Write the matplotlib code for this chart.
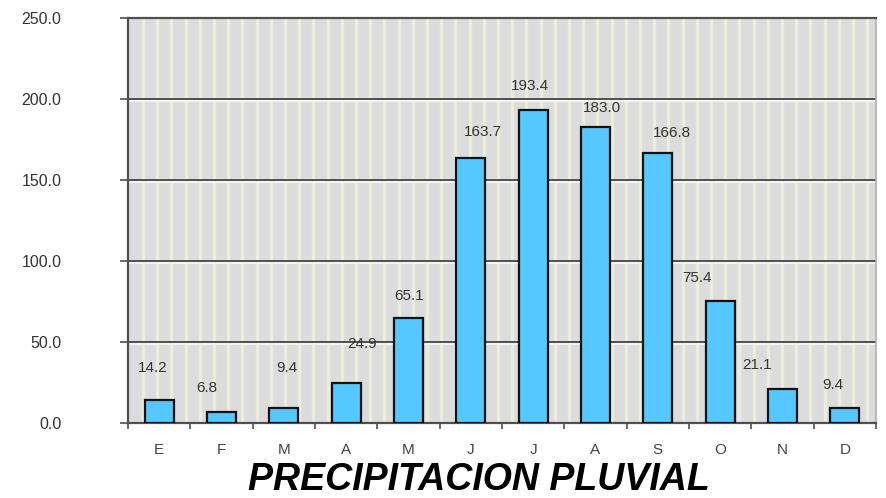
import numpy as np
import matplotlib
matplotlib.use("Agg")
import matplotlib.pyplot as plt
import matplotlib.transforms as mtransforms

# datos
months = ["E", "F", "M", "A", "M", "J", "J", "A", "S", "O", "N", "D"]
precip = [14.2, 6.8, 9.4, 24.9, 65.1, 163.7, 193.4, 183.0, 166.8, 75.4, 21.1, 9.4]
yticks = [0, 50, 100, 150, 200, 250]

# posiciones de las etiquetas (desplazamiento x, altura y en datos)
label_dx = [-0.11, -0.23, 0.05, 0.25, 0.01, 0.2, -0.05, 0.1, 0.23, -0.37, -0.41, -0.19]
label_y = [34.0, 21.6, 34.0, 48.8, 78.4, 179.6, 208.0, 194.4, 179.0, 89.5, 35.8, 23.5]

plt.rcParams['font.family'] = ['Liberation Sans', 'DejaVu Sans']

fig = plt.figure(figsize=(8.86, 4.98), dpi=100)
ax = fig.add_axes([128 / 886, 1 - 423 / 498, 748 / 886, 405 / 498])

n = len(months)
x = np.arange(n)
ax.set_xlim(-0.5, n - 0.5)
ax.set_ylim(0, 250)
ax.set_facecolor("#dcdcdc")

# franjas verticales claras del fondo
step = 14.2 / 748 * n
for xs in np.arange(-0.5 + 15 / 748 * n, n - 0.5, step):
    ax.axvline(xs, color="#ededdc", lw=2.4, zorder=0.5)

# lineas de cuadricula con sombra blanca
ytrans = ax.get_yaxis_transform()
shadow = mtransforms.offset_copy(ytrans, fig=fig, x=0, y=-1.6, units="points")
for yv in yticks[1:-1]:
    ax.plot([0, 1], [yv, yv], color="#f4f4f4", lw=1.4, zorder=1, transform=shadow)
    ax.plot([0, 1], [yv, yv], color="#505050", lw=1.4, zorder=1.2, transform=ytrans)

ax.bar(x, precip, width=0.47, color="#55c8ff", edgecolor="#111111", lw=1.6, zorder=3)

for i, v in enumerate(precip):
    ax.text(i + label_dx[i], label_y[i], f"{v:.1f}", ha="center", va="center",
            fontsize=11, color="#333333", zorder=4)

ax.set_yticks(yticks)
ax.set_yticklabels([f"{t:.1f}" for t in yticks], fontsize=11.5, color="#333333")
ax.tick_params(axis="y", length=6, width=1.2, color="#505050", pad=42)

ax.set_xticks(x)
ax.set_xticklabels(months, fontsize=11, color="#444444")
ax.set_xticks(np.arange(-0.5, n, 1), minor=True)
ax.tick_params(axis="x", which="major", length=0, pad=14.5)
ax.tick_params(axis="x", which="minor", length=4, width=1.2, color="#505050")

for side in ["left", "bottom", "top"]:
    ax.spines[side].set_color("#505050")
    ax.spines[side].set_linewidth(1.6)
ax.spines["right"].set_color("#b0b0b0")
ax.spines["right"].set_linewidth(1.2)

fig.text(479 / 886, 1 - 490 / 498, "PRECIPITACION PLUVIAL", ha="center", va="baseline",
         fontsize=27, fontweight="bold", fontstyle="italic", color="black")

fig.savefig("out.png", dpi=100)
